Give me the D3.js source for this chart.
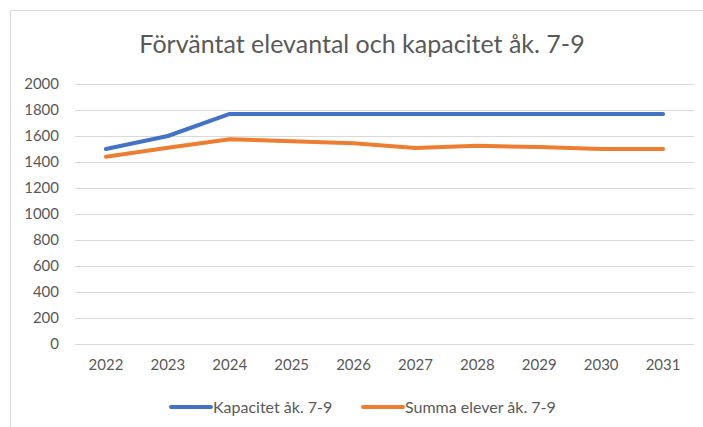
<!DOCTYPE html>
<html>
<head>
<meta charset="utf-8">
<script src="https://cdn.jsdelivr.net/npm/d3@7"></script>
<style>
  body { margin: 0; background: #fff; }
  text { font-family: Lato, "Open Sans", sans-serif; fill: #595959; }
</style>
</head>
<body>
<div id="chart"></div>
<script>
var years = ["2022", "2023", "2024", "2025", "2026", "2027", "2028", "2029", "2030", "2031"];
var kapacitet = [1500, 1600, 1770, 1770, 1770, 1770, 1770, 1770, 1770, 1770];
var elever = [1440, 1510, 1575, 1560, 1545, 1508, 1525, 1515, 1500, 1500];
var yTicks = [0, 200, 400, 600, 800, 1000, 1200, 1400, 1600, 1800, 2000];
var seriesNames = ["Kapacitet åk. 7-9", "Summa elever åk. 7-9"];
var colors = ["#4472C4", "#ED7D31"];

var width = 703, height = 427;
var plotLeft = 75, plotRight = 694, plotTop = 84, plotBottom = 344;

var svg = d3.select("#chart")
  .append("svg")
  .attr("width", width)
  .attr("height", height);

// chart frame (right and bottom edges fall outside the picture)
svg.append("rect")
  .attr("x", 10.5).attr("y", 10.5)
  .attr("width", width + 10).attr("height", height + 10)
  .attr("fill", "none")
  .attr("stroke", "#d9d9d9");

svg.append("text")
  .attr("x", 362).attr("y", 53)
  .attr("text-anchor", "middle")
  .style("font-size", "25px")
  .text("Förväntat elevantal och kapacitet åk. 7-9");

var x = d3.scaleBand().domain(years).range([plotLeft, plotRight]);
var y = d3.scaleLinear().domain([0, 2000]).range([plotBottom, plotTop]);

// gridlines
svg.append("g")
  .selectAll("line")
  .data(yTicks)
  .enter().append("line")
  .attr("x1", plotLeft).attr("x2", plotRight)
  .attr("y1", function (d) { return Math.round(y(d)) + 0.5; })
  .attr("y2", function (d) { return Math.round(y(d)) + 0.5; })
  .attr("stroke", "#d9d9d9")
  .attr("stroke-width", 1);

var yAxis = svg.append("g")
  .attr("transform", "translate(" + (plotLeft - 16) + ",0)")
  .call(d3.axisLeft(y).tickValues(yTicks).tickSize(0).tickPadding(0).tickFormat(d3.format("d")));
yAxis.select(".domain").remove();
yAxis.selectAll("text").style("font-size", "15px").attr("fill", "#595959")
  .style("font-family", "Lato, sans-serif");

var xAxis = svg.append("g")
  .attr("transform", "translate(0," + (plotBottom + 15) + ")")
  .call(d3.axisBottom(x).tickSize(0).tickPadding(0));
xAxis.select(".domain").remove();
xAxis.selectAll("text").style("font-size", "15px").attr("fill", "#595959")
  .style("font-family", "Lato, sans-serif");

var line = d3.line()
  .x(function (d, i) { return x(years[i]) + x.bandwidth() / 2; })
  .y(function (d) { return y(d); });

[kapacitet, elever].forEach(function (s, i) {
  svg.append("path")
    .datum(s)
    .attr("d", line)
    .attr("fill", "none")
    .attr("stroke", colors[i])
    .attr("stroke-width", 4)
    .attr("stroke-linecap", "round")
    .attr("stroke-linejoin", "round");
});

// legend
var legendX = [171, 363];
var legend = svg.append("g")
  .selectAll("g")
  .data(seriesNames)
  .enter().append("g")
  .attr("transform", function (d, i) { return "translate(" + legendX[i] + ",407)"; });
legend.append("line")
  .attr("x1", 0).attr("x2", 40)
  .attr("stroke", function (d, i) { return colors[i]; })
  .attr("stroke-width", 4)
  .attr("stroke-linecap", "round");
legend.append("text")
  .attr("x", 42).attr("y", 5.5)
  .style("font-size", "16px")
  .text(function (d) { return d; });
</script>
</body>
</html>
